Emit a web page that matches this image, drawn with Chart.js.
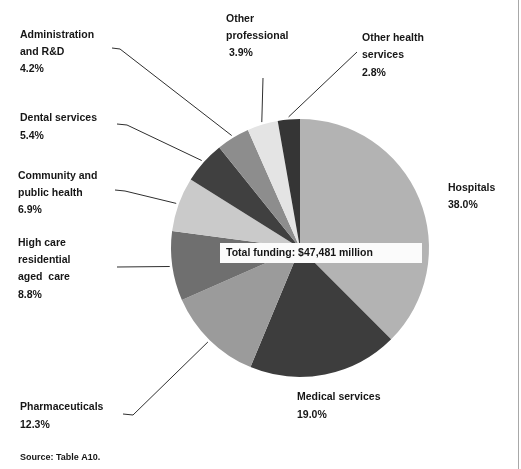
<!DOCTYPE html>
<html lang="en">
<head>
    <meta charset="UTF-8">
    <title>Health funding by area of expenditure</title>
    <style>
        body {
            margin: 0;
            background: #fff;
        }
        #chartBox {
            width: 521px;
            height: 469px;
        }
    </style>
</head>
<body>
    <div id="chartBox">
        <canvas id="pie" width="521" height="469"></canvas>
    </div>

    <script src="https://cdn.jsdelivr.net/npm/chart.js"></script>
    <script>
        // Areas of expenditure, clockwise from 12 o'clock
        const categories = [
            ['Hospitals'],
            ['Medical services'],
            ['Pharmaceuticals'],
            ['High care', 'residential', 'aged  care'],
            ['Community and', 'public health'],
            ['Dental services'],
            ['Administration', 'and R&D'],
            ['Other', 'professional'],
            ['Other health', 'services']
        ];
        const shares = [38.0, 19.0, 12.3, 8.8, 6.9, 5.4, 4.2, 3.9, 2.8];
        const totalText = 'Total funding: $47,481 million';
        const sourceText = 'Source: Table A10.';

        const sliceColours = ['#b3b3b3', '#3d3d3d', '#9b9b9b', '#6f6f6f', '#cacaca',
                              '#404040', '#8d8d8d', '#e4e4e4', '#353535'];

        // where each label sits (first line centre) and where its leader starts
        const labelSpots = [
            { x: 448, y: 188, lh: 17.5 },
            { x: 297, y: 397, lh: 18 },
            { x: 20, y: 407, lh: 18, lead: [123, 414], elbow: 10 },
            { x: 18, y: 243, lh: 17.3, lead: [117, 267], elbow: 0 },
            { x: 18, y: 176, lh: 17, lead: [115, 190], elbow: 10 },
            { x: 20, y: 118, lh: 18, lead: [117, 124], elbow: 10 },
            { x: 20, y: 35, lh: 17, lead: [112, 48], elbow: 8 },
            { x: 226, y: 19, lh: 17, lead: [263, 78], elbow: 0, pctIndent: 3 },
            { x: 362, y: 38, lh: 17.5, lead: [357, 52], elbow: 0 }
        ];

        const FONT = 'bold 10.5px "Liberation Sans", Arial, sans-serif';

        const annotations = {
            id: 'annotations',
            afterDraw(chart) {
                const ctx = chart.ctx;
                const arcs = chart.getDatasetMeta(0).data;
                ctx.save();

                // leader lines from labels to the middle of each slice's rim
                ctx.strokeStyle = '#2e2e2e';
                ctx.lineWidth = 1;
                arcs.forEach((arc, i) => {
                    const spot = labelSpots[i];
                    if (!spot.lead) return;
                    const p = arc.getProps(['x', 'y', 'startAngle', 'endAngle', 'outerRadius'], true);
                    const mid = (p.startAngle + p.endAngle) / 2;
                    const r = p.outerRadius * 1.02;
                    const ex = p.x + Math.cos(mid) * r;
                    const ey = p.y + Math.sin(mid) * r;
                    ctx.beginPath();
                    ctx.moveTo(spot.lead[0], spot.lead[1]);
                    if (spot.elbow) ctx.lineTo(spot.lead[0] + spot.elbow, spot.lead[1] + 1);
                    ctx.lineTo(ex, ey);
                    ctx.stroke();
                });

                // category names and shares
                ctx.font = FONT;
                ctx.fillStyle = '#161616';
                ctx.textBaseline = 'middle';
                ctx.textAlign = 'left';
                categories.forEach((lines, i) => {
                    const spot = labelSpots[i];
                    lines.forEach((t, k) => ctx.fillText(t, spot.x, spot.y + k * spot.lh));
                    ctx.fillText(shares[i].toFixed(1) + '%', spot.x + (spot.pctIndent || 0),
                                 spot.y + lines.length * spot.lh);
                });

                // total funding box over the pie
                ctx.fillStyle = '#fbfbfb';
                ctx.fillRect(220, 243, 202, 20);
                ctx.fillStyle = '#161616';
                ctx.font = 'bold 10.5px "Liberation Sans", Arial, sans-serif';
                ctx.fillText(totalText, 226, 253.5);

                ctx.font = 'bold 9px "Liberation Sans", Arial, sans-serif';
                ctx.fillText(sourceText, 20, 458);

                // frame edge on the right
                ctx.strokeStyle = '#a8a8a8';
                ctx.beginPath();
                ctx.moveTo(518.5, 0);
                ctx.lineTo(518.5, 469);
                ctx.stroke();

                ctx.restore();
            }
        };

        new Chart(document.getElementById('pie'), {
            type: 'pie',
            data: {
                labels: categories,
                datasets: [{
                    data: shares,
                    backgroundColor: sliceColours,
                    borderWidth: 0
                }]
            },
            options: {
                responsive: false,
                animation: false,
                rotation: 0,
                layout: {
                    padding: { top: 119, bottom: 92, left: 171, right: 92 }
                },
                plugins: {
                    legend: { display: false },
                    tooltip: { enabled: false }
                }
            },
            plugins: [annotations]
        });
    </script>
</body>
</html>
